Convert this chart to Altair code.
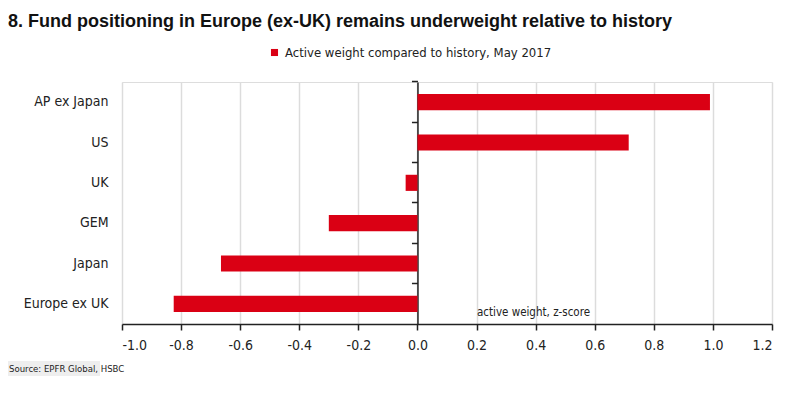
import altair as alt
import pandas as pd

categories = ["AP ex Japan", "US", "UK", "GEM", "Japan", "Europe ex UK"]
values = [0.99, 0.715, -0.04, -0.30, -0.665, -0.825]
series_name = "Active weight compared to history, May 2017"
x_ticks = [-1.0, -0.8, -0.6, -0.4, -0.2, 0.0, 0.2, 0.4, 0.6, 0.8, 1.0, 1.2]
title_text = "8. Fund positioning in Europe (ex-UK) remains underweight relative to history"
source_text = "Source:  EPFR Global, HSBC"
axis_note = "active weight, z-score"

RED = "#DA0014"
NARROW = "'Liberation Sans Narrow', 'DejaVu Sans Condensed', 'Roboto Condensed', 'Liberation Sans', sans-serif"
W, H = 650, 242

df = pd.DataFrame({"region": categories, "value": values, "series": series_name})

y_scale = alt.Scale(domain=categories, paddingInner=0.6, paddingOuter=0.3)
x_scale = alt.Scale(domain=[-1.0, 1.2], nice=False, zero=False)

bars = alt.Chart(df).mark_bar(color=RED).encode(
    x=alt.X("value:Q", scale=x_scale,
            axis=alt.Axis(values=x_ticks,
                          labelExpr="replace(format(datum.value, '.1f'), '\u2212', '-')",
                          title=axis_note,
                          titleX=411, titleY=-9, titleAnchor="middle", titleAlign="center",
                          titleBaseline="alphabetic", titleFont=NARROW, titleFontSize=11.5,
                          titleFontWeight="normal", titleColor="#222",
                          grid=True, gridColor="#dcdcdc", gridWidth=1.5,
                          domainColor="#222", domainWidth=1.5,
                          tickColor="#222", tickWidth=1.5, tickSize=6,
                          labelFont=NARROW, labelFontSize=14, labelColor="#222",
                          labelPadding=8)),
    y=alt.Y("region:N", scale=y_scale, sort=categories,
            axis=alt.Axis(title=None, orient="left", domain=False, ticks=False, grid=False,
                          labelFont=NARROW, labelFontSize=14, labelColor="#222",
                          labelLimit=200, labelPadding=14)),
    color=alt.Color("series:N", scale=alt.Scale(range=[RED]),
                    legend=alt.Legend(title=None, orient="none", legendX=146, legendY=-36,
                                      symbolType="square", symbolSize=50,
                                      symbolStrokeWidth=0, labelLimit=400,
                                      labelFont=NARROW, labelFontSize=13, labelColor="#222")),
)

zero_axis = alt.Chart(df).mark_bar(opacity=0).encode(
    x=alt.X("value:Q", scale=x_scale),
    y=alt.Y("region:N", scale=y_scale, sort=categories,
            axis=alt.Axis(title=None, labels=False, grid=False, orient="left",
                          offset=-W / 2.2, domainColor="#222", domainWidth=1.5,
                          tickColor="#222", tickWidth=1.5, tickSize=6,
                          bandPosition=-0.75)),
)

title_df = pd.DataFrame({"t": [title_text]})
title = alt.Chart(title_df).mark_text(
    align="left", baseline="alphabetic", font="Liberation Sans", fontSize=18,
    fontWeight="bold", color="#111"
).encode(text="t:N", x=alt.value(-114), y=alt.value(-55))

src_df = pd.DataFrame({"t": [source_text]})
src_bg = alt.Chart(src_df).mark_rect(color="#eeeeee").encode(
    x=alt.value(-114), x2=alt.value(-114 + 92), y=alt.value(H + 37), y2=alt.value(H + 52))
src = alt.Chart(src_df).mark_text(
    align="left", baseline="middle", font=NARROW, fontSize=9.5, color="#222"
).encode(text="t:N", x=alt.value(-113), y=alt.value(H + 44.5))

chart = alt.layer(zero_axis, bars, title, src_bg, src).resolve_axis(y="independent").properties(
    width=W, height=H,
    autosize=alt.AutoSizeParams(type="none"),
    padding={"left": 114, "top": 74, "right": 19, "bottom": 67},
).configure_view(stroke=None).configure(background="white")

chart.save("out.html", embed_options={"renderer": "svg", "actions": False})
